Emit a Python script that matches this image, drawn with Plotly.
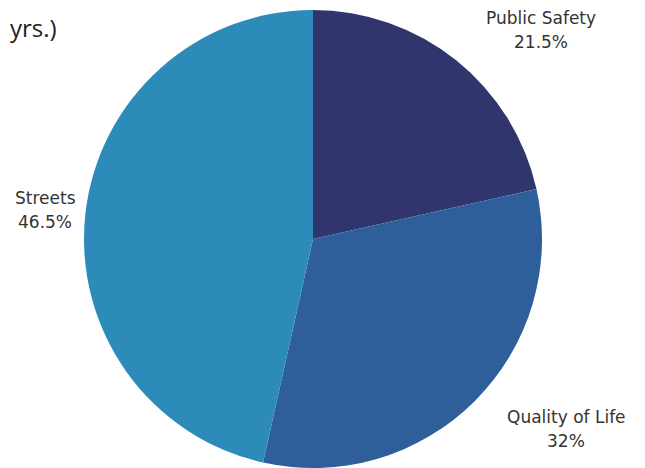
import plotly.graph_objects as go

categories = ["Public Safety", "Quality of Life", "Streets"]
values = [21.5, 32, 46.5]
value_labels = ["21.5%", "32%", "46.5%"]
colors = ["#31356e", "#2e5f9a", "#2d8bb9"]
title_text = "yrs.)"

W, H = 645, 468
OFF = 8  # page body margin
cx, cy, r = 313 - OFF, 239 - OFF, 229

fig = go.Figure(go.Pie(
    labels=categories,
    values=values,
    sort=False,
    direction="clockwise",
    rotation=0,
    marker=dict(colors=colors, line=dict(width=0)),
    textinfo="none",
    hoverinfo="label+percent",
    domain=dict(x=[(cx - r) / W, (cx + r) / W], y=[(H - cy - r) / H, (H - cy + r) / H]),
    showlegend=False,
))

# label centre x, first line centre y (window pixels)
label_pos = [(541, 18), (566, 417), (45, 198)]
line_gap = 24
lab_font = dict(family="DejaVu Sans, sans-serif", size=17, color="#333333")
anns = []
for cat, vl, (px, py) in zip(categories, value_labels, label_pos):
    for i, t in enumerate([cat, vl]):
        anns.append(dict(
            x=(px - OFF) / W, y=1 - (py + i * line_gap - OFF) / H,
            xref="paper", yref="paper",
            text=t, showarrow=False, xanchor="center", yanchor="middle",
            font=lab_font,
        ))
anns.append(dict(
    x=0, y=1 - (28 - OFF) / H, xref="paper", yref="paper", text=title_text,
    showarrow=False, xanchor="left", yanchor="middle",
    font=dict(family="Open Sans, sans-serif", size=24, color="#222222"),
))

fig.update_layout(
    width=W, height=H,
    margin=dict(l=0, r=0, t=0, b=0),
    paper_bgcolor="white",
    annotations=anns,
)
fig.write_html("out.html")
